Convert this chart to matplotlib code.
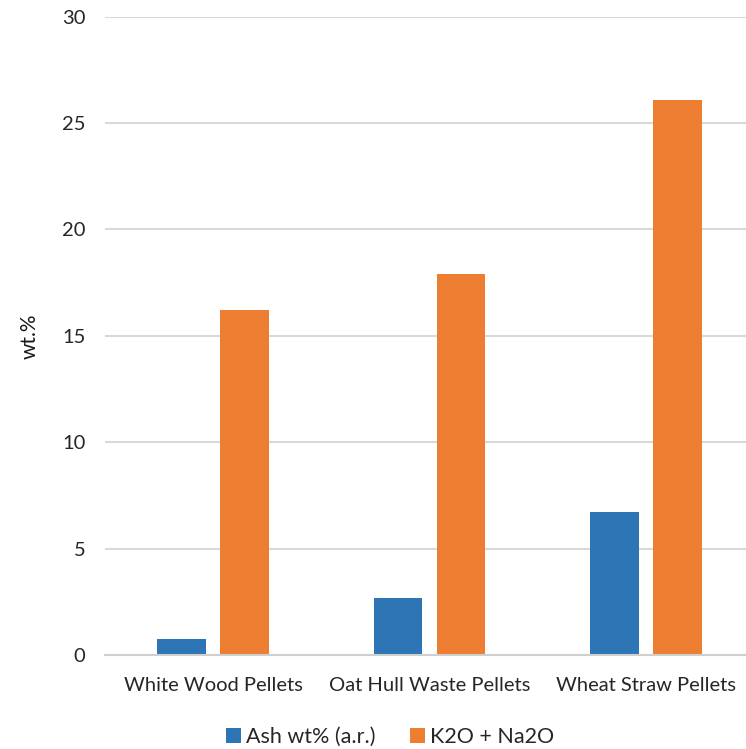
import numpy as np
import matplotlib.pyplot as plt

# ash and alkali content of the pellet types
pellets = ['White Wood Pellets', 'Oat Hull Waste Pellets', 'Wheat Straw Pellets']
ash = [0.74, 2.66, 6.7]
alkali = [16.2, 17.9, 26.1]
series_names = ['Ash wt% (a.r.)', 'K2O + Na2O']

plt.rcParams['font.family'] = ['Lato', 'DejaVu Sans']

fig = plt.figure(figsize=(7.46, 7.49), dpi=100)
ax = fig.add_axes([104.75 / 746, 1 - 655 / 749, 649.5 / 746, 638.5 / 749])

x = np.arange(len(pellets))
w = 0.224
off = 0.1455
ax.bar(x - off, ash, w, color='#2E75B6', label=series_names[0], zorder=3)
ax.bar(x + off, alkali, w, color='#ED7D31', label=series_names[1], zorder=3)

ax.set_xlim(-0.5, 2.5)
ax.set_ylim(0, 30)
ax.set_yticks(range(0, 31, 5))
ax.set_xticks(x)
ax.set_xticklabels(pellets)
ax.grid(axis='y', color='#d9d9d9', linewidth=1.5, zorder=0)
for s in ['top', 'right', 'left']:
    ax.spines[s].set_visible(False)
ax.spines['bottom'].set_color('#cfcfcf')
ax.spines['bottom'].set_linewidth(1.5)
ax.spines['bottom'].set_zorder(4)
ax.tick_params(axis='both', length=0, labelsize=14.5, colors='#262626')
ax.tick_params(axis='x', pad=16)
ax.tick_params(axis='y', pad=14)
ax.set_ylabel('wt.%', fontsize=15, color='#1a1a1a', labelpad=16)

fig.legend(loc='center', bbox_to_anchor=(390 / 746, 1 - 737 / 749), ncol=2,
           frameon=False, fontsize=15.5, handlelength=0.7, handleheight=0.7,
           handletextpad=0.25, columnspacing=1.6, labelcolor='#262626')

plt.savefig('out.png', dpi=100)
